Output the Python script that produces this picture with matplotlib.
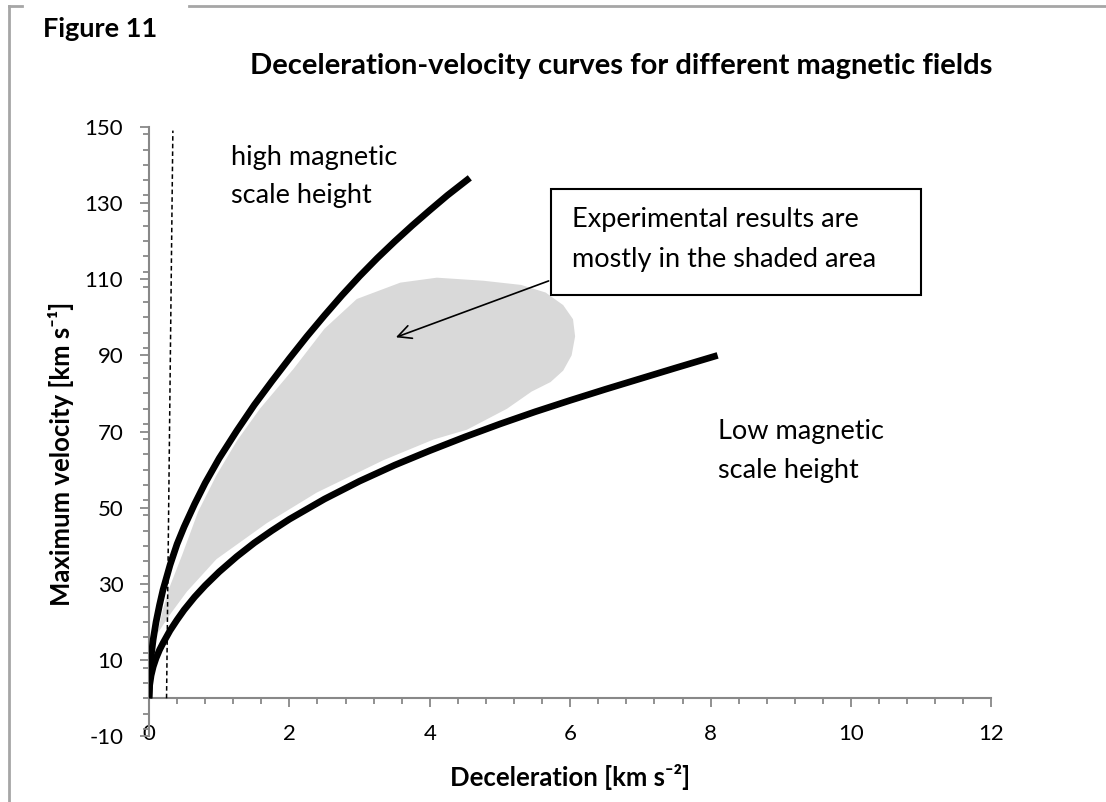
import matplotlib

matplotlib.use("Agg")

import matplotlib.pyplot as plt
from matplotlib.lines import Line2D
from matplotlib.patches import Polygon, Rectangle
from matplotlib.ticker import MultipleLocator

# curves (deceleration km s^-2, max velocity km s^-1)
high_acc = [0, 0.01, 0.03, 0.06, 0.1, 0.15, 0.2, 0.3, 0.4, 0.5, 0.65, 0.8, 1.0, 1.25, 1.5,
            1.75, 2.0, 2.25, 2.5, 2.75, 3.0, 3.25, 3.5, 3.75, 4.0, 4.25, 4.57]
high_vel = [0, 6.5, 11, 15.5, 20, 24.5, 28.5, 35, 40.5, 45, 51, 56.5, 63, 70.2, 77,
            83.2, 89.2, 95, 100.5, 105.8, 110.8, 115.5, 119.9, 124.1, 128.1, 132, 136.6]

low_acc = [0, 0.01, 0.03, 0.06, 0.1, 0.15, 0.2, 0.3, 0.4, 0.5, 0.65, 0.8, 1.0, 1.25, 1.5,
           1.75, 2.0, 2.5, 3.0, 3.5, 4.0, 4.5, 5.0, 5.5, 6.0, 6.5, 7.0, 7.5, 8.1]
low_vel = [0, 3.5, 6, 8.3, 10.5, 12.7, 14.5, 17.8, 20.6, 23.2, 26.6, 29.6, 33.2, 37.2, 40.8,
           44, 47, 52.3, 57, 61.2, 65, 68.6, 72, 75.2, 78.2, 81.1, 83.9, 86.7, 90]

# outline of the shaded "experimental" region
shade_acc = [0.12, 0.2, 0.3, 0.47, 0.7, 0.96, 1.25, 1.58, 2.06, 2.5, 2.96, 3.58, 4.1,
             4.76, 5.3, 5.65, 5.9, 6.04, 6.07, 6.02, 5.9, 5.72, 5.45, 5.1, 4.53, 4.05,
             3.34, 2.39, 1.68, 0.96, 0.54, 0.3]
shade_vel = [17, 23.5, 29.5, 37.5, 49, 58.5, 67.5, 76, 86.5, 97, 104.8, 109.1, 110.4,
             109.6, 108.5, 106.5, 103.2, 99.5, 95, 90, 86, 83, 80.5, 76, 70.5, 67.9,
             62.5, 54, 46, 36.5, 28, 22]

dash_acc = [0.25, 0.34]
dash_vel = [0, 149]

W, H = 1106, 802
plt.rcParams["font.family"] = ["Lato", "DejaVu Sans"]
plt.rcParams["axes.unicode_minus"] = False
fig = plt.figure(figsize=(W / 100, H / 100), dpi=100)


def px(x, y):
    return x / W, 1 - y / H


ax = fig.add_axes([149 / W, 1 - 736.4 / H, 842.4 / W, 609.6 / H])
ax.set_xlim(0, 12)
ax.set_ylim(-10, 150)

ax.add_patch(Polygon(list(zip(shade_acc, shade_vel)), closed=True, facecolor="#d9d9d9",
                     edgecolor="none", zorder=1))
ax.plot(high_acc, high_vel, color="black", lw=4.8, solid_capstyle="butt",
        solid_joinstyle="round", zorder=3)
ax.plot(low_acc, low_vel, color="black", lw=4.8, solid_capstyle="butt",
        solid_joinstyle="round", zorder=3)
ax.plot(dash_acc, dash_vel, color="black", lw=1.1, linestyle=(0, (3, 2)), zorder=4)

# axes styling (Excel look)
for side in ["top", "right"]:
    ax.spines[side].set_visible(False)
ax.spines["bottom"].set_position(("data", 0))
for side in ["left", "bottom"]:
    ax.spines[side].set_color("#888888")
    ax.spines[side].set_linewidth(1.5)
ax.set_xticks(range(0, 13, 2))
ax.set_yticks(range(-10, 151, 20))
ax.xaxis.set_minor_locator(MultipleLocator(0.4))
ax.yaxis.set_minor_locator(MultipleLocator(4))
ax.tick_params(which="major", direction="out", length=6.5, width=1.3, color="#888888",
               labelsize=16, labelcolor="black")
ax.tick_params(which="minor", direction="out", length=4.3, width=1.3, color="#888888")
ax.tick_params(axis="x", which="major", pad=12)
ax.tick_params(axis="y", which="major", pad=12)

# annotation box
box_left, box_right, box_bottom, box_top = 5.73, 11.0, 105.9, 133.7
ax.add_patch(Rectangle((box_left, box_bottom), box_right - box_left, box_top - box_bottom,
                       facecolor="white", edgecolor="black", lw=1.5, zorder=5))
ax.text(6.02, 125.8, "Experimental results are", fontsize=19.5, va="center", ha="left", zorder=6)
ax.text(6.02, 115.3, "mostly in the shaded area", fontsize=19.5, va="center", ha="left", zorder=6)
ax.annotate("", xy=(3.48, 94.5), xytext=(box_left, 109.8),
            arrowprops=dict(arrowstyle="->", color="black", lw=1.2, mutation_scale=24), zorder=6)

ax.text(1.17, 142, "high magnetic", fontsize=19.5, va="center", ha="left")
ax.text(1.17, 132, "scale height", fontsize=19.5, va="center", ha="left")
ax.text(8.1, 69.9, "Low magnetic", fontsize=19.5, va="center", ha="left")
ax.text(8.1, 59.7, "scale height", fontsize=19.5, va="center", ha="left")

# titles and axis labels
fig.text(*px(621, 66), "Deceleration-velocity curves for different magnetic fields",
         fontsize=21, fontweight="bold", ha="center", va="center")
fig.text(*px(43, 29), "Figure 11", fontsize=19.5, fontweight="bold", ha="left", va="center")
fig.text(*px(570, 777), "Deceleration [km s\u207b\u00b2]", fontsize=18.5, fontweight="bold",
         ha="center", va="center")
fig.text(*px(61, 454), "Maximum velocity [km s\u207b\u00b9]", fontsize=18.5, fontweight="bold",
         ha="center", va="center", rotation=90)

# outer frame with a notch for the figure number
frame = dict(color="#a6a6a6", lw=2)
fig.add_artist(Line2D([9 / W, 9 / W], [0, 1 - 6 / H], **frame))
fig.add_artist(Line2D([9 / W, 22 / W], [1 - 6 / H, 1 - 6 / H], **frame))
fig.add_artist(Line2D([189 / W, 1], [1 - 6 / H, 1 - 6 / H], **frame))

fig.savefig("out.png", dpi=100)
